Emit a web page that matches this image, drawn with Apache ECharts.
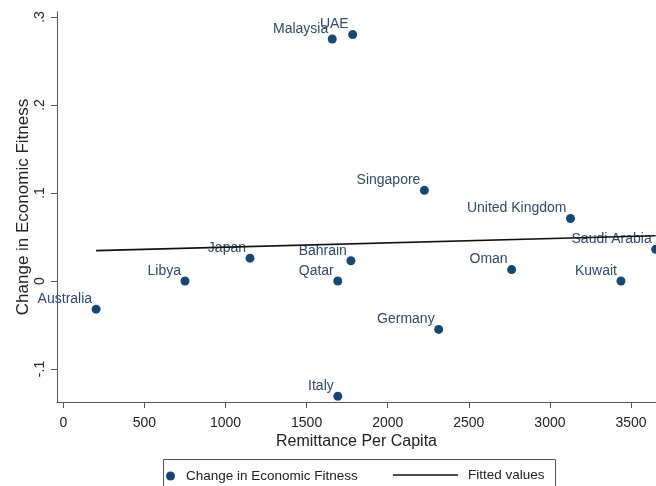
<!DOCTYPE html>
<html>
<head>
<meta charset="utf-8">
<script src="https://cdn.jsdelivr.net/npm/echarts@6/dist/echarts.min.js"></script>
<style>
  html, body { margin: 0; padding: 0; background: #fff; }
  #chart { width: 656px; height: 486px; }
</style>
</head>
<body>
<div id="chart"></div>
<script>
// Remittance per capita vs. change in economic fitness, by country
const countries = ['Australia', 'Libya', 'Japan', 'Malaysia', 'UAE', 'Bahrain', 'Qatar', 'Italy',
  'Singapore', 'Germany', 'Oman', 'United Kingdom', 'Kuwait', 'Saudi Arabia'];
const remittance = [202, 750, 1151, 1658, 1784, 1773, 1692, 1692, 2226, 2314, 2764, 3127, 3438, 3652];
const fitnessChange = [-0.032, 0.000, 0.026, 0.275, 0.280, 0.023, 0.000, -0.131, 0.103, -0.055, 0.013, 0.071, 0.000, 0.036];

// Linear fit, evaluated at the smallest and largest remittance
const fittedX = [202, 3652];
const fittedY = [0.0345, 0.0514];

const xTicks = [0, 500, 1000, 1500, 2000, 2500, 3000, 3500];
const yTicks = [-0.1, 0, 0.1, 0.2, 0.3];

const FONT = 'Liberation Sans, Arial, sans-serif';
const NAVY = '#1a476f';
const AXIS = '#555';

const points = countries.map((c, i) => ({ name: c, value: [remittance[i], fitnessChange[i]] }));
const fitted = fittedX.map((x, i) => [x, fittedY[i]]);

const fmtY = v => {
  if (Math.abs(v) < 1e-9) return '0';
  const s = String(Math.abs(+v.toFixed(4))).replace(/^0/, '');
  return (v < 0 ? '-' : '') + s;
};

const chart = echarts.init(document.getElementById('chart'), null, { renderer: 'canvas' });
chart.setOption({
  backgroundColor: '#fff',
  animation: false,
  grid: { left: 57, right: 0, top: 12, bottom: 84, containLabel: false },
  xAxis: {
    type: 'value',
    min: -39, max: 3654,
    splitLine: { show: false },
    axisLine: { show: true, onZero: false, lineStyle: { color: AXIS, width: 1 } },
    axisTick: { show: true, length: 6, customValues: xTicks, lineStyle: { color: AXIS } },
    axisLabel: { customValues: xTicks, margin: 14, fontSize: 14, color: '#222', fontFamily: FONT,
      formatter: v => String(Math.round(v)) },
    name: 'Remittance Per Capita',
    nameLocation: 'middle',
    nameGap: 32,
    nameMoveOverlap: false,
    nameTextStyle: { fontSize: 16, color: '#222', fontFamily: FONT }
  },
  yAxis: {
    type: 'value',
    min: -0.1375, max: 0.3057,
    splitLine: { show: false },
    axisLine: { show: true, onZero: false, lineStyle: { color: AXIS, width: 1 } },
    axisTick: { show: true, length: 6, customValues: yTicks, lineStyle: { color: AXIS } },
    axisLabel: { customValues: yTicks, rotate: 90, margin: 10, fontSize: 14, color: '#222',
      fontFamily: FONT, formatter: fmtY },
    name: 'Change in Economic Fitness',
    nameLocation: 'middle',
    nameRotate: 90,
    nameGap: 25,
    nameMoveOverlap: false,
    nameTextStyle: { fontSize: 17, color: '#222', fontFamily: FONT }
  },
  legend: [
    {
      data: [{ name: 'Change in Economic Fitness', icon: 'circle' }],
      left: 166, top: 469, padding: 0,
      itemWidth: 9, itemHeight: 9,
      textStyle: { fontSize: 13.5, color: '#222', fontFamily: FONT, padding: [0, 0, 0, 6] }
    },
    {
      data: [{ name: 'Fitted values', icon: 'rect', itemStyle: { color: '#111' } }],
      left: 393, top: 468, padding: 0,
      itemWidth: 65, itemHeight: 1.6,
      textStyle: { fontSize: 13.5, color: '#222', fontFamily: FONT, padding: [0, 0, 0, 5] }
    }
  ],
  graphic: [
    { type: 'rect', left: 163, top: 459, silent: true, z: -1,
      shape: { width: 392, height: 40 },
      style: { fill: '#fff', stroke: AXIS, lineWidth: 1 } }
  ],
  series: [
    {
      name: 'Fitted values',
      type: 'line',
      data: fitted,
      symbol: 'none',
      clip: false,
      z: 3,
      lineStyle: { color: '#111', width: 1.6 }
    },
    {
      name: 'Change in Economic Fitness',
      type: 'scatter',
      data: points,
      symbol: 'circle',
      symbolSize: 9,
      clip: false,
      z: 2,
      itemStyle: { color: NAVY, opacity: 1 },
      label: {
        show: true,
        formatter: p => p.name,
        position: 'left',
        distance: 0,
        offset: [0.5, -10],
        fontSize: 14,
        color: '#2f4a6b',
        fontFamily: FONT
      }
    }
  ]
});
</script>
</body>
</html>
